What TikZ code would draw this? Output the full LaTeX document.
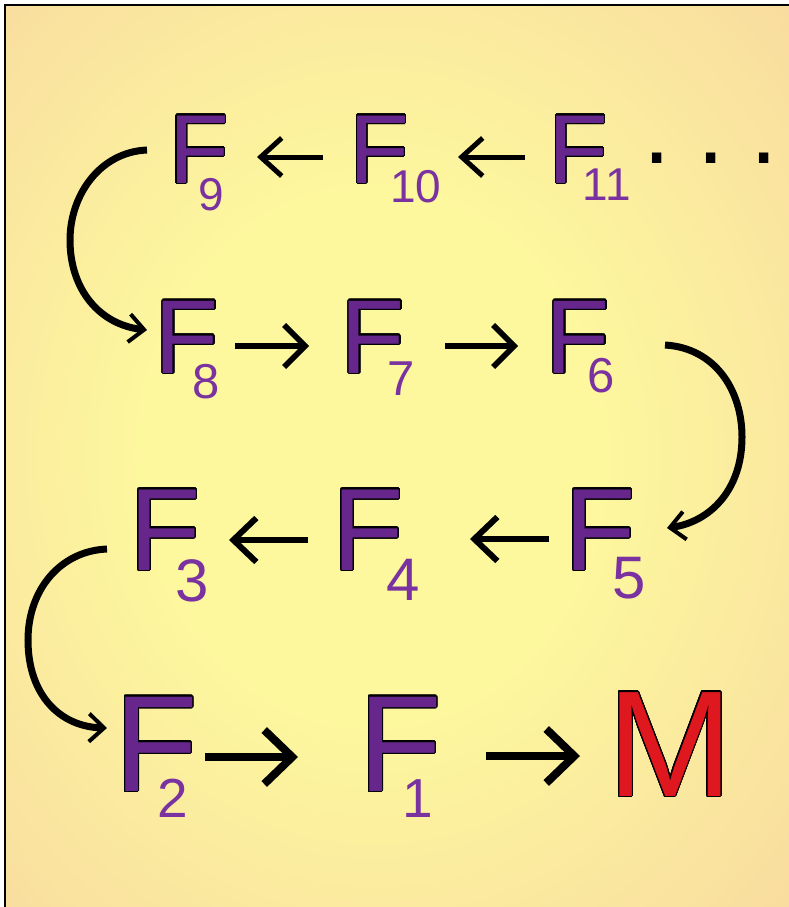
\documentclass[tikz,border=0pt]{standalone}
\usepackage{fontspec}
\setmainfont{Liberation Sans}
\usepackage{contour}
\contourlength{1.1pt}
\contournumber{32}
\usetikzlibrary{arrows.meta}
\definecolor{bgin}{RGB}{253,248,158}
\definecolor{bgout}{RGB}{247,210,160}
\definecolor{fpur}{RGB}{102,38,140}
\definecolor{spur}{RGB}{122,50,160}
\definecolor{mred}{RGB}{222,24,30}
\pgfdeclareradialshading{bgshade}{\pgfpoint{-2bp}{0bp}}{color(0bp)=(bgin);color(14bp)=(bgin);color(44bp)=(bgout);color(75bp)=(bgout)}
\tikzset{
  bigF/.style={anchor=base, inner sep=0pt, outer sep=0pt, text=fpur},
  subn/.style={anchor=base, inner sep=0pt, outer sep=0pt, text=spur},
  fA/.style={font=\fontsize{98}{98}\selectfont},
  fB/.style={font=\fontsize{105}{105}\selectfont},
  fC/.style={font=\fontsize{117}{117}\selectfont},
  fD/.style={font=\fontsize{137}{137}\selectfont},
  sA/.style={font=\fontsize{46}{46}\selectfont},
  sB/.style={font=\fontsize{49}{49}\selectfont},
  sC/.style={font=\fontsize{60}{60}\selectfont},
  sD/.style={font=\fontsize{55}{55}\selectfont},
  arA/.style={line width=5pt, -{Straight Barb[length=21pt,width=38pt,sharp]}},
  arB/.style={line width=5.5pt, -{Straight Barb[length=21pt,width=42pt,sharp]}},
  arC/.style={line width=6pt, -{Straight Barb[length=23pt,width=44pt,sharp]}},
  arD/.style={line width=8pt, -{Straight Barb[length=28pt,width=54pt,sharp]}},
  curv/.style={line width=7pt, -{Straight Barb[length=15pt,width=28pt,line width=4pt,sharp]}}
}
\begin{document}
\begin{tikzpicture}[x=1pt,y=-1pt]
\useasboundingbox (0,0) rectangle (789,907);
\fill[white] (0,0) rectangle (789,907);
\shade[shading=bgshade] (5,5) rectangle (789,907);
\draw[line width=2pt] (5,907) -- (5,5) -- (789,5);

% row 1
\node[bigF,fA] (F9)  at (199,183)   {\contour{black}{F}};
\node[bigF,fA] (F10) at (379.5,183) {\contour{black}{F}};
\node[bigF,fA] (F11) at (578.5,183) {\contour{black}{F}};
\node[subn,sA] (s9)  at (211.5,210) {9};
\node[subn,sA] (s10) at (416,202)   {10};
\node[subn,sA] (s11) at (606.7,200) {11};
\node[anchor=base west, inner sep=0pt, fA] (dots) at (643,163) {.\hspace{27pt}.\hspace{26pt}.};

% row 2
\node[bigF,fB] (F8) at (187,373) {\contour{black}{F}};
\node[bigF,fB] (F7) at (373,373) {\contour{black}{F}};
\node[bigF,fB] (F6) at (578,373) {\contour{black}{F}};
\node[subn,sB] (s8) at (206,398)   {8};
\node[subn,sB] (s7) at (401,395)   {7};
\node[subn,sB] (s6) at (601.5,392) {6};

% row 3
\node[bigF,fC] (F3) at (165,570) {\contour{black}{F}};
\node[bigF,fC] (F4) at (368,570) {\contour{black}{F}};
\node[bigF,fC] (F5) at (600,570) {\contour{black}{F}};
\node[subn,sC] (s3) at (192,601) {3};
\node[subn,sC] (s4) at (403,600) {4};
\node[subn,sC] (s5) at (629,598) {5};

% row 4
\node[bigF,fD] (F2) at (156,791) {\contour{black}{F}};
\node[bigF,fD] (F1) at (400,791) {\contour{black}{F}};
\node[subn,sD] (s2) at (173,817) {2};
\node[subn,sD] (s1) at (418,817) {1};
\node[anchor=base, inner sep=0pt, outer sep=0pt, text=mred, font=\fontsize{151}{151}\selectfont] (M) at (670,796) {\contour{black}{M}};

% straight arrows
\draw[arA] ([shift={(-56.5,-26)}]F10.base) -- ([shift={(58,-26)}]F9.base);
\draw[arA] ([shift={(-53.5,-26)}]F11.base) -- ([shift={(78.5,-26)}]F10.base);
\draw[arB] ([shift={(48,-27)}]F8.base) -- ([shift={(-64,-27)}]F7.base);
\draw[arB] ([shift={(72,-27)}]F7.base) -- ([shift={(-60,-27)}]F6.base);
\draw[arC] ([shift={(-60,-30)}]F4.base) -- ([shift={(64,-30)}]F3.base);
\draw[arC] ([shift={(-51,-31)}]F5.base) -- ([shift={(102,-31)}]F4.base);
\draw[arD] ([shift={(49,-34)}]F2.base) -- ([shift={(-102,-34)}]F1.base);
\draw[arD] ([shift={(86,-35)}]F1.base) -- ([shift={(-90,-40)}]M.base);

% curved connectors
\draw[curv] ([shift={(-52,-33)}]F9.base) .. controls (100,152) and (70,195) .. (70,240)
            .. controls (70,290) and (100,325) .. ([shift={(-40,-43)}]F8.base);
\draw[curv] ([shift={(87,-28)}]F6.base) .. controls (715,348) and (742,390) .. (742,437)
            .. controls (742,490) and (710,522) .. ([shift={(67,-42)}]F5.base);
\draw[curv] ([shift={(-58,-21)}]F3.base) .. controls (60,551) and (28,590) .. (28,640)
            .. controls (28,695) and (60,727) .. ([shift={(-49,-63)}]F2.base);
\end{tikzpicture}
\end{document}
